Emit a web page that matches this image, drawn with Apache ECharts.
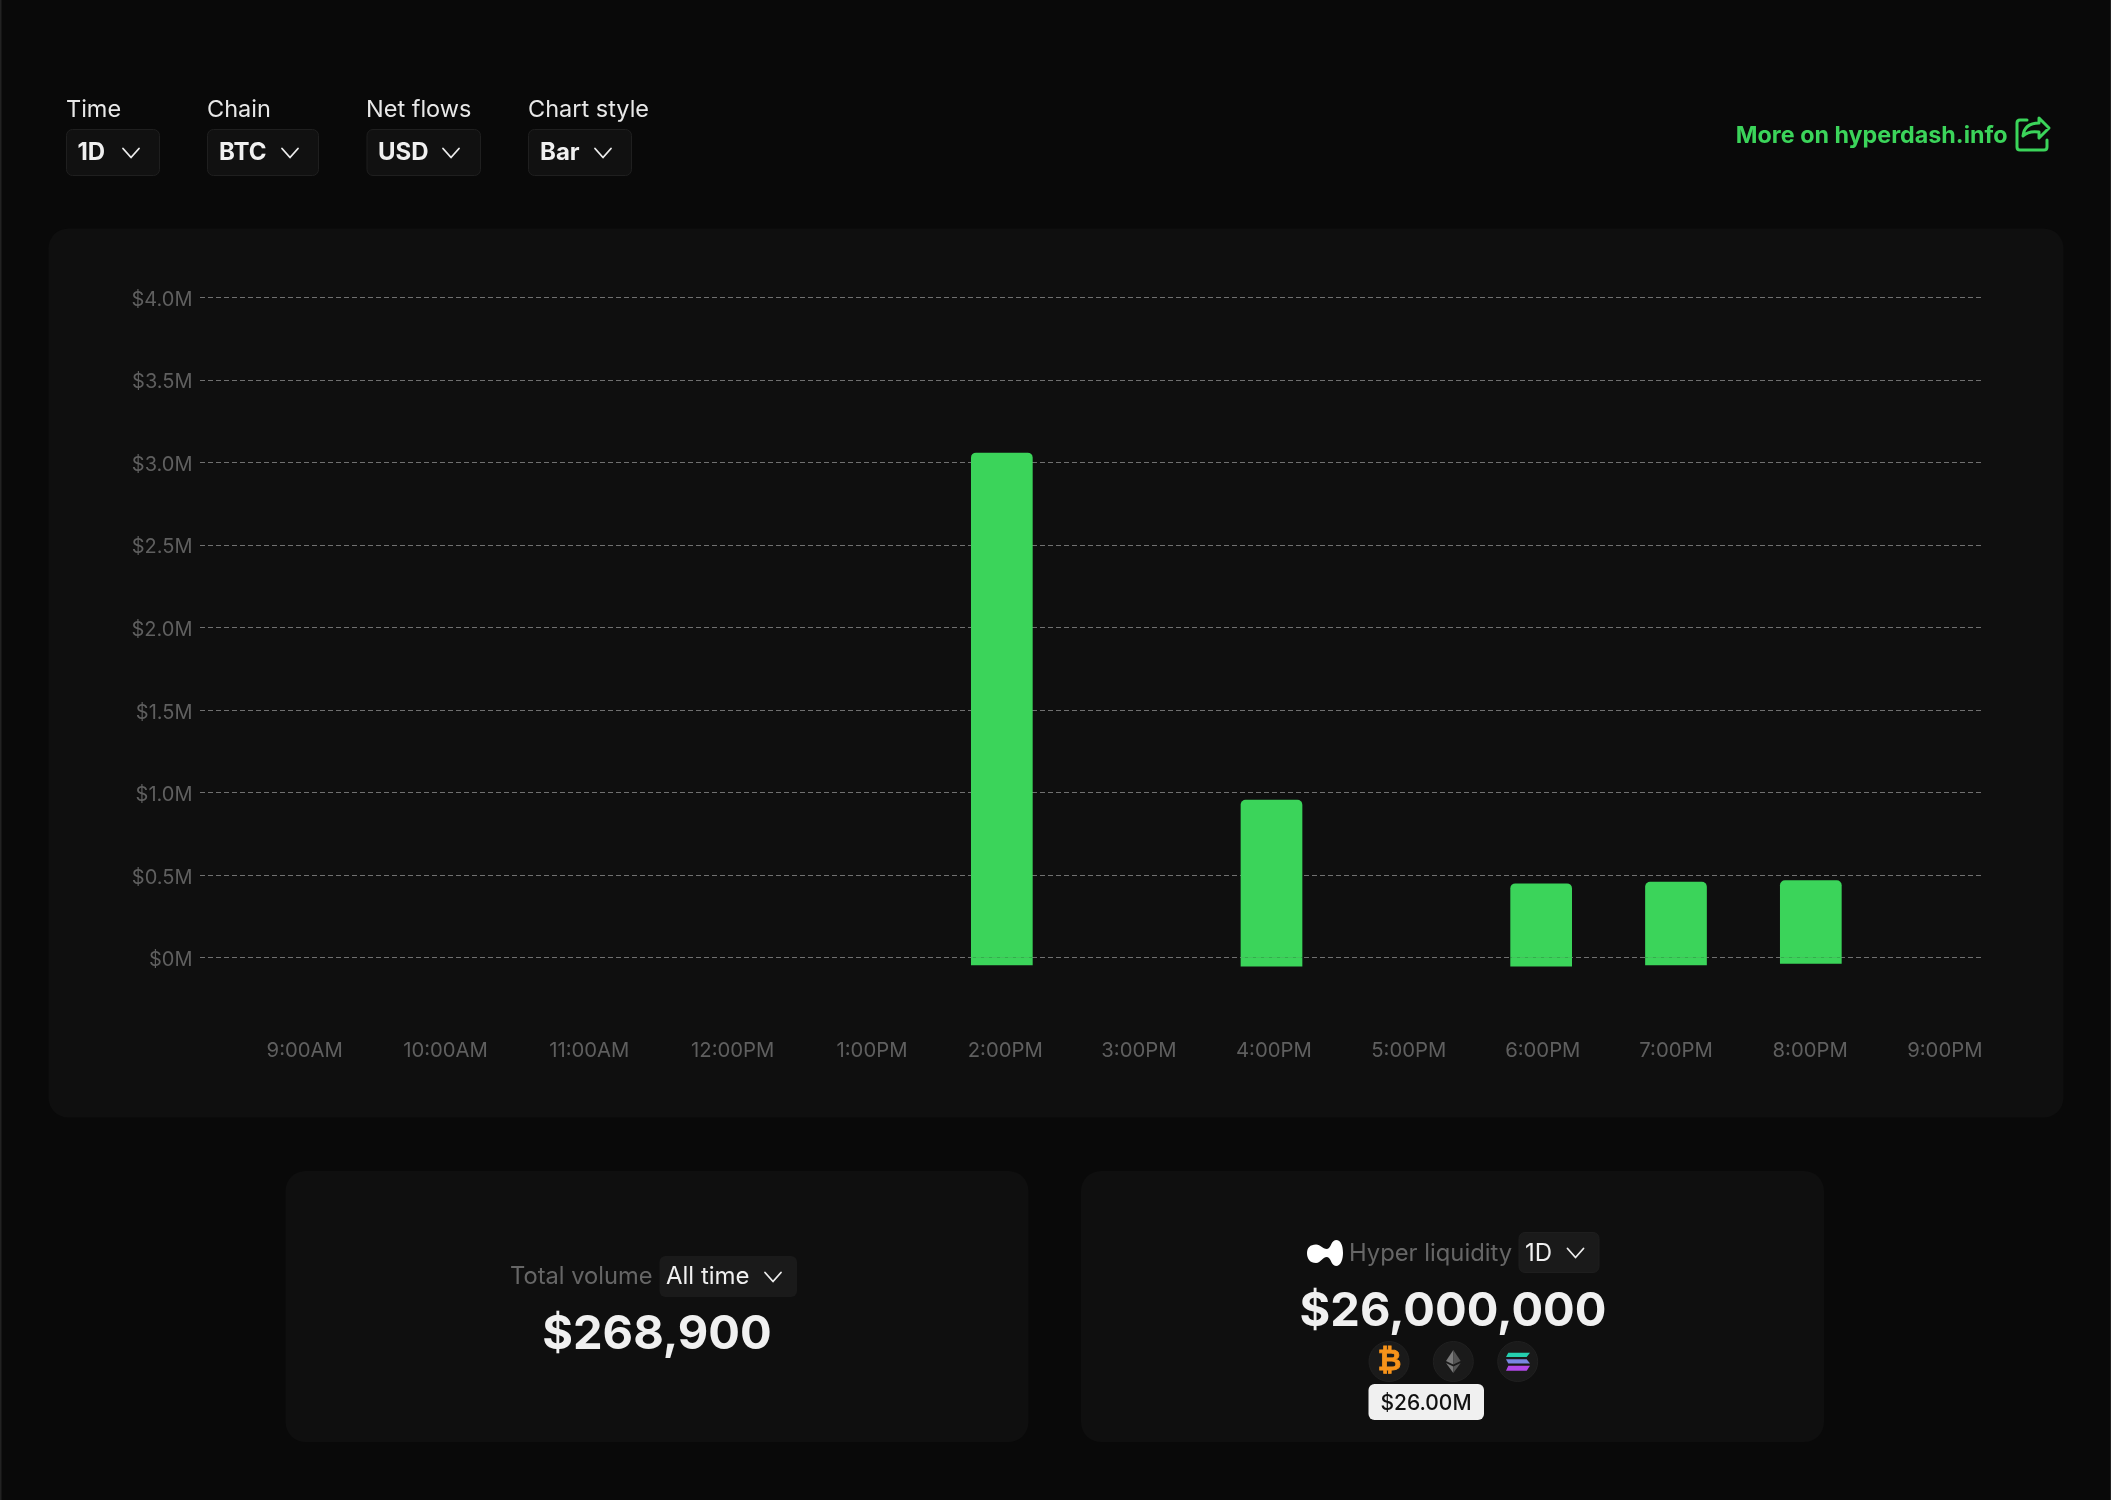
<!DOCTYPE html>
<html>
<head>
<meta charset="utf-8">
<style>html,body{margin:0;padding:0;background:#090909}#c{width:2111px;height:1500px}</style>
<script src="https://cdn.jsdelivr.net/npm/echarts@6/dist/echarts.min.js"></script>
</head>
<body>
<div id="c"></div>
<script>
// Hour of day for each bar
const barHours = [14, 16, 18, 19, 20];
// Net flow in $M, above and below zero
const inflow = [3.059, 0.956, 0.45, 0.46, 0.469];
const outflow = [-0.046, -0.054, -0.054, -0.046, -0.036];
// Time-axis labels and the axis positions (hours) they sit at in the row
const tickLabels = ['9:00AM','10:00AM','11:00AM','12:00PM','1:00PM','2:00PM','3:00PM','4:00PM','5:00PM','6:00PM','7:00PM','8:00PM','9:00PM'];
const tickHours = [8.83, 9.874, 10.94, 12.004, 13.037, 14.025, 15.017, 16.018, 17.018, 18.012, 19.0, 19.995, 20.994];

const FONT = 'Inter, "Noto Sans", sans-serif';
const GREEN = '#3bd45a';

echarts.graphic.registerShape('linkIcon', echarts.graphic.extendPath('M2027 120 L2020 120 Q2017 120 2017 123 L2017 147 Q2017 150 2020 150 L2044 150 Q2047 150 2047 147 L2047 140 M2023 136 C2024 127 2030 123 2039 123 L2039 118 L2049 128 L2039 138 L2039 132 C2032 131 2027 132 2023 136 Z'));
echarts.graphic.registerShape('hlLogo', echarts.graphic.extendPath('M1316 1244.5 C1310 1244.5 1307 1248 1307 1253 C1307 1259 1310 1263 1316 1263 C1321 1263 1322 1257 1327 1257 C1331 1257 1331 1266 1336 1266 C1341 1266 1343 1259 1343 1253 C1343 1246 1341 1240 1336 1240 C1331 1240 1331 1249 1327 1249 C1322 1249 1321 1244.5 1316 1244.5 Z'));

function rect(x, y, w, h, r, fill, stroke, z) {
  return { type:'rect', silent:true, z: z === undefined ? -5 : z,
    shape:{ x, y, width:w, height:h, r },
    style:{ fill, stroke: stroke || null, lineWidth: stroke ? 1 : 0 } };
}
function text(t, x, y, size, weight, fill, align) {
  return { type:'text', silent:true, z:5, x, y,
    style:{ text:t, fontFamily:FONT, fontSize:size, fontWeight:weight, fill,
      align: align || 'left', verticalAlign:'middle' } };
}
function chevron(cx, cy) {
  return { type:'polyline', silent:true, z:5,
    shape:{ points:[[cx-8,cy-4.5],[cx,cy+4.5],[cx+8,cy-4.5]] },
    style:{ stroke:'#eeeeee', lineWidth:1.8, fill:null, lineCap:'round', lineJoin:'round' } };
}
function poly(points, fill) {
  return { type:'polygon', silent:true, z:6, shape:{ points }, style:{ fill } };
}
function coin(cx) {
  return { type:'circle', silent:true, z:4, shape:{ cx, cy:1361.5, r:20 },
    style:{ fill:'#1a1a1a', stroke:'#202020', lineWidth:1 } };
}

const graphics = [
  rect(0, 0, 1.5, 1500, 0, '#222222'),
  rect(2110, 0, 1, 1500, 0, '#222222'),
  // main panel and cards
  rect(48.5, 228.5, 2015, 889, 20, '#0f0f0f'),
  rect(285.5, 1171, 743, 271, 20, '#0f0f0f'),
  rect(1081, 1171, 743, 271, 20, '#0f0f0f'),
  // top controls
  text('Time', 66, 110, 23.5, 400, '#e8e8e8'),
  text('Chain', 207, 110, 23.5, 400, '#e8e8e8'),
  text('Net flows', 366, 110, 23.5, 400, '#e8e8e8'),
  text('Chart style', 528, 110, 23.5, 400, '#e8e8e8'),
  rect(66.5, 129.5, 93, 46, 6, '#111111', '#1f1f1f'),
  rect(207.5, 129.5, 111, 46, 6, '#111111', '#1f1f1f'),
  rect(367, 129.5, 113.5, 46, 6, '#111111', '#1f1f1f'),
  rect(528.5, 129.5, 103, 46, 6, '#111111', '#1f1f1f'),
  text('1D', 77.5, 153, 24, 700, '#f0f0f0'),
  text('BTC', 219, 153, 24, 700, '#f0f0f0'),
  text('USD', 378, 153, 24, 700, '#f0f0f0'),
  text('Bar', 540, 153, 24, 700, '#f0f0f0'),
  chevron(131, 153), chevron(290, 153), chevron(451, 153), chevron(603, 153),
  // link
  text('More on hyperdash.info', 2007.5, 136, 23.3, 700, GREEN, 'right'),
  { type:'linkIcon', silent:true, z:5, shape:{},
    style:{ stroke:GREEN, lineWidth:3, fill:null, lineJoin:'round', lineCap:'round' } },
  // total volume card
  text('Total volume', 510, 1277, 23.7, 400, '#666666'),
  rect(659.5, 1256, 137.5, 41, 6, '#1a1a1a'),
  text('All time', 666, 1277, 24, 400, '#f0f0f0'),
  chevron(773, 1277),
  text('$268,900', 657, 1335, 47, 700, '#f0f0f0', 'center'),
  // hyper liquidity card
  { type:'hlLogo', silent:true, z:5, shape:{}, style:{ fill:'#ffffff' } },
  text('Hyper liquidity', 1349, 1253.5, 23.8, 400, '#666666'),
  rect(1519, 1232.5, 80, 40, 6, '#1a1a1a', '#1e1e1e'),
  text('1D', 1525, 1253.5, 24, 400, '#f0f0f0'),
  chevron(1575.5, 1253),
  text('$26,000,000', 1453, 1312, 47, 700, '#f0f0f0', 'center'),
  coin(1389), coin(1453.3), coin(1517.7),
  { type:'text', silent:true, z:6, x:1389.5, y:1362,
    style:{ text:'₿', fontFamily:'"DejaVu Sans", sans-serif', fontWeight:700, fontSize:29, fill:'#f7931a',
      stroke:'#f7931a', lineWidth:0.8, align:'center', verticalAlign:'middle' } },
  poly([[1453.3,1350],[1446,1361],[1453.3,1364.5]], '#7a7a7a'),
  poly([[1453.3,1350],[1460.7,1361],[1453.3,1364.5]], '#555555'),
  poly([[1446,1363],[1453.3,1366.5],[1453.3,1373]], '#7a7a7a'),
  poly([[1460.7,1363],[1453.3,1366.5],[1453.3,1373]], '#555555'),
  poly([[1508.3,1352.7],[1530,1352.7],[1526.7,1357],[1506,1357]], '#25d0b0'),
  poly([[1506,1359.3],[1526.7,1359.3],[1530,1363.5],[1508.3,1363.5]], '#7a86e2'),
  poly([[1508.3,1365.7],[1530,1365.7],[1526.7,1370.7],[1506,1370.7]], '#b248e8'),
  rect(1368.5, 1384, 115.5, 36, 6, '#f0f0f0', null, 4),
  text('$26.00M', 1426, 1403.5, 21, 500, '#111111', 'center')
];

const chart = echarts.init(document.getElementById('c'), null, { renderer:'canvas' });
chart.setOption({
  animation:false,
  backgroundColor:'#090909',
  graphic:{ elements:graphics },
  grid:{ left:200, right:128, top:297.3, height:660.4 },
  xAxis:{
    type:'value', min:8.053, max:21.277,
    splitLine:{show:false}, axisLine:{show:false}, axisTick:{show:false},
    axisLabel:{
      customValues:tickHours,
      margin:83.5, fontFamily:FONT, fontSize:20.3, color:'#5f5f5f', hideOverlap:false,
      formatter:(v)=>tickLabels[tickHours.indexOf(v)]
    }
  },
  yAxis:{
    type:'value', min:0, max:4, interval:0.5,
    axisLine:{show:false}, axisTick:{show:false},
    axisLabel:{ margin:7.5, fontFamily:FONT, fontSize:20, color:'#5f5f5f',
      verticalAlign:'top', lineHeight:5,
      formatter:(v)=> v===0 ? '$0M' : '$'+v.toFixed(1)+'M' },
    splitLine:{ show:true, lineStyle:{ color:'#707070', width:1, type:[5,3] } }
  },
  series:[
    { name:'Inflow', type:'bar', stack:'flow', clip:false, barWidth:61.7,
      data:barHours.map((h,i)=>[h,inflow[i]]),
      itemStyle:{ color:GREEN, borderRadius:[5,5,0,0] } },
    { name:'Outflow', type:'bar', stack:'flow', clip:false, barWidth:61.7,
      data:barHours.map((h,i)=>[h,outflow[i]]),
      itemStyle:{ color:GREEN } }
  ]
});
</script>
</body>
</html>
